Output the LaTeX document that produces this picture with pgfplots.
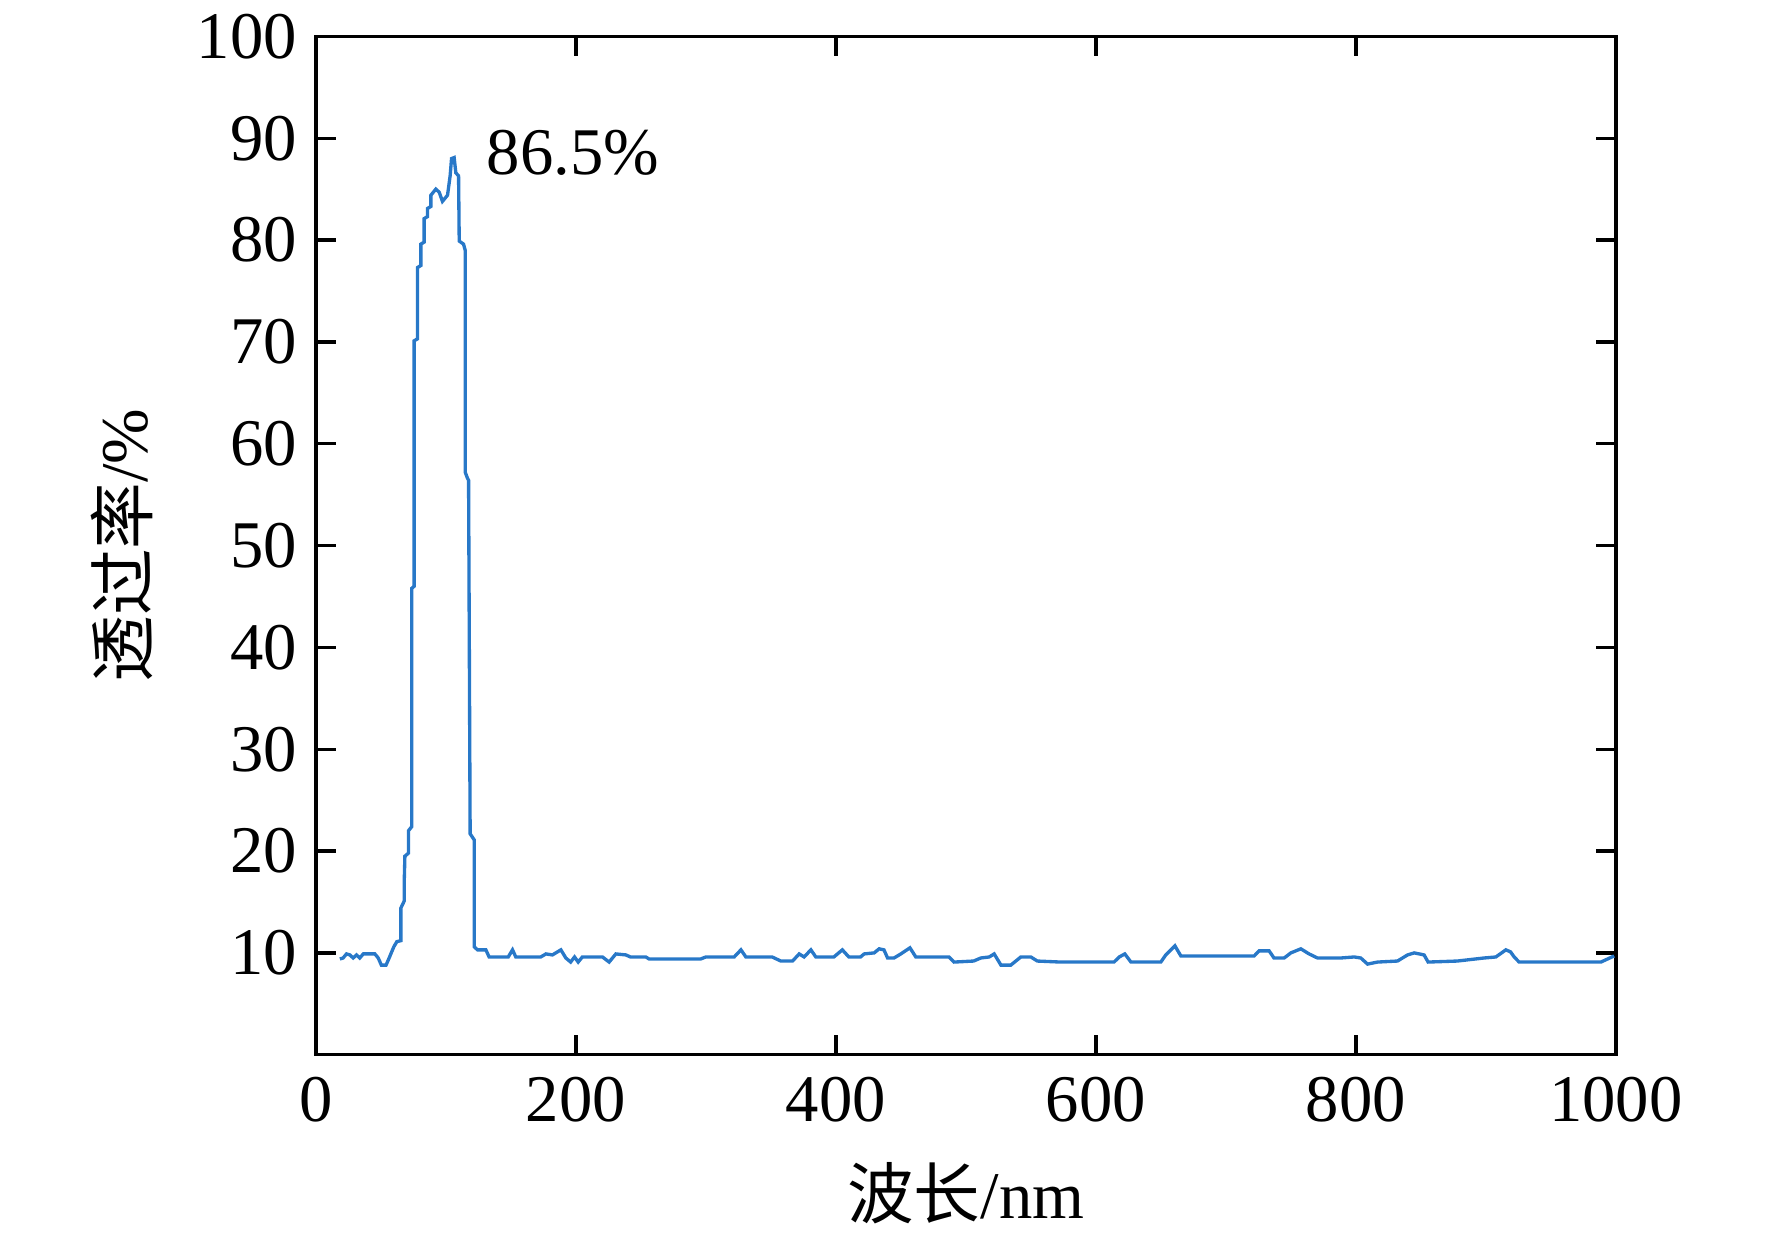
\documentclass[border=0pt]{standalone}
\usepackage{pgfplots}
\pgfplotsset{compat=1.18}
\usepackage{fontspec}
\setmainfont{Liberation Serif}
\newfontfamily\cjk{Noto Sans CJK SC}
\definecolor{curve}{RGB}{40,120,200}
\begin{document}
\begin{tikzpicture}
\begin{axis}[
  scale only axis,
  width=312pt, height=244.4pt,
  xmin=0, xmax=1000, ymin=0, ymax=100,
  xtick={0,200,...,1000},
  ytick={10,20,...,100},
  tick align=inside,
  major tick length=4.8pt,
  every tick/.style={black, line width=0.8pt},
  axis line style={black, line width=0.8pt},
  /pgf/number format/assume math mode=true,
  /pgf/number format/1000 sep={},
  ticklabel style={font=\fontsize{16}{19}\selectfont},
  xticklabel style={yshift=-1.8pt},
  yticklabel style={xshift=-1pt},
  xlabel={{\cjk 波长}/nm},
  ylabel={{\cjk 透过率}/\%},
  xlabel style={at={(axis description cs:0.5,-0.136)}, anchor=center, font=\fontsize{16}{19}\selectfont},
  ylabel style={at={(axis description cs:-0.149,0.5)}, anchor=center, rotate=0, font=\fontsize{16}{19}\selectfont},
]
\addplot[curve, line width=0.8pt, sharp plot] coordinates {
(18.5,9.4) (21.0,9.5) (23.6,9.9) (26.2,9.8) (28.7,9.5) (31.3,9.8) (33.8,9.5) (36.5,9.9) (45.4,9.9) (48.0,9.5) (50.4,8.8) (54.0,8.8) (56.4,9.5) (57.7,9.9) (60.0,10.6) (62.3,11.1) (65.4,11.2) (65.4,14.4) (68.0,15.1) (68.0,17.0) (68.5,19.5) (71.3,19.8) (71.3,22.0) (73.8,22.4) (73.8,45.8) (75.6,46.0) (75.6,70.1) (78.2,70.3) (78.2,77.3) (80.8,77.5) (80.8,79.6) (83.3,79.8) (83.3,82.1) (85.9,82.3) (85.9,83.1) (88.5,83.3) (88.5,84.4) (92.3,85.0) (94.9,84.7) (97.4,83.8) (101.3,84.4) (103.3,86.3) (104.4,88.0) (106.4,88.1) (107.7,86.6) (109.8,86.3) (110.3,79.9) (113.6,79.6) (114.9,79.0) (114.9,57.2) (116.7,56.6) (117.5,56.4) (118.7,21.7) (121.8,21.1) (121.8,10.6) (124.4,10.3) (130.8,10.3) (133.3,9.6)
(148,9.6) (151.3,10.3) (153.8,9.6) (173,9.6) (177,9.9) (182,9.8) (188.5,10.3) (192.3,9.5) (196,9.1) (199,9.6) (201.8,9.1) (205,9.6) (220.5,9.6) (225.6,9.1) (230.8,9.9) (238.5,9.8) (242,9.6) (253.8,9.6) (256.4,9.4) (296,9.4) (300,9.6) (321.8,9.6) (327,10.3) (330.8,9.6) (351,9.6) (357.7,9.2) (366.7,9.2) (371.8,9.9) (375.6,9.6) (380.8,10.3) (384.6,9.6) (398.5,9.6) (405,10.3) (410,9.6) (419,9.6) (421.8,9.9) (429.5,10.0) (433.3,10.4) (437,10.3) (439.8,9.5) (444.8,9.5) (450,9.9) (457,10.5) (461.5,9.6) (487,9.6) (491,9.1) (506,9.2) (511.5,9.5) (518,9.6) (521.8,9.9) (527,8.8) (534.6,8.8) (542.3,9.6) (550,9.6) (555,9.2) (573,9.1) (614,9.1) (618,9.6) (622.3,9.9) (627,9.1) (650,9.1) (653.8,9.8) (660.8,10.7) (665.4,9.7) (721.8,9.7) (725.6,10.2) (733.3,10.2) (737,9.5) (744.9,9.5) (750,10.0) (757.7,10.4) (764,9.9) (770.5,9.5) (788.5,9.5) (798.7,9.6) (803.8,9.5) (809,8.9) (816.7,9.1) (832,9.2) (839.8,9.8) (844.9,10.0) (852.5,9.8) (855.6,9.1) (878,9.2) (898.7,9.5) (907.7,9.6) (915.4,10.3) (919,10.1) (921.8,9.6) (925.6,9.1) (988.5,9.1) (998.7,9.7)
};
\node[anchor=west, inner sep=0pt, font=\fontsize{16}{19}\selectfont] at (axis cs:131,88.6) {86.5\%};
\end{axis}
\path (current axis.south west) ++(-75.8pt,-45.2pt) rectangle ++(425.28pt,296.88pt);
\end{tikzpicture}
\end{document}
